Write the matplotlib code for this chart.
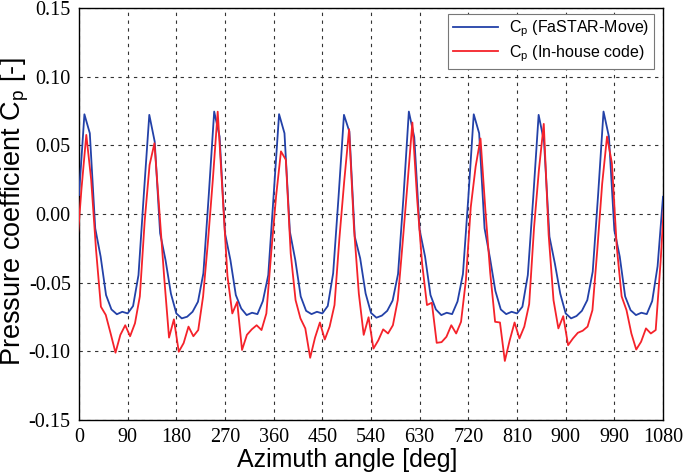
import numpy as np
import matplotlib
matplotlib.use("Agg")
import matplotlib.pyplot as plt

# ---- data ----
blue_angle = np.arange(0, 1081, 10)
blue_cp = [
    0.0138, 0.0726, 0.0588, -0.0104, -0.031, -0.059, -0.0695, -0.073, -0.0712, -0.0724,
    -0.067, -0.0445, 0.015, 0.0722, 0.0527, -0.014, -0.0335, -0.058, -0.0724, -0.076,
    -0.0748, -0.0712, -0.0639, -0.0432, 0.014, 0.0746, 0.0564, -0.014, -0.0335, -0.059,
    -0.0688, -0.0736, -0.0719, -0.0729, -0.0634, -0.0445, 0.014, 0.0727, 0.0588, -0.0129,
    -0.0335, -0.060, -0.0705, -0.0729, -0.0712, -0.0724, -0.067, -0.0432, 0.0126, 0.0722,
    0.060, -0.0165, -0.0323, -0.0578, -0.072, -0.0755, -0.074, -0.0705, -0.063, -0.0437,
    0.012, 0.0746, 0.056, -0.0117, -0.031, -0.059, -0.0695, -0.0736, -0.0719, -0.0729,
    -0.0637, -0.0437, 0.012, 0.0726, 0.0588, -0.0104, -0.032, -0.056, -0.0695, -0.0729,
    -0.0712, -0.0724, -0.0675, -0.0445, 0.012, 0.0722, 0.0527, -0.0165, -0.036, -0.058,
    -0.0724, -0.076, -0.0743, -0.0705, -0.0627, -0.042, 0.014, 0.0746, 0.0563, -0.0117,
    -0.031, -0.060, -0.070, -0.0736, -0.0719, -0.0729, -0.0634, -0.038, 0.0126,
]

red_angle = np.arange(-4.5, 1085, 9)
red_cp = [
    -0.029, 0.018, 0.0576, 0.025, -0.026, -0.0675, -0.0735, -0.087, -0.101, -0.088,
    -0.081, -0.089, -0.0796, -0.060, -0.005, 0.0357, 0.0515, 0.003, -0.046, -0.090,
    -0.0767, -0.1003, -0.094, -0.082, -0.089, -0.0845, -0.060, -0.02, 0.025, 0.0745,
    0.015, -0.045, -0.0724, -0.064, -0.099, -0.088, -0.084, -0.081, -0.0845, -0.0724,
    -0.028, 0.013, 0.0456, 0.0395, -0.0287, -0.0627, -0.076, -0.0833, -0.1047, -0.090,
    -0.079, -0.0914, -0.082, -0.0663, -0.018, 0.024, 0.0617, -0.01, -0.058, -0.088,
    -0.0752, -0.098, -0.092, -0.084, -0.087, -0.081, -0.0627, -0.021, 0.022, 0.0666,
    0.010, -0.036, -0.0663, -0.0646, -0.0938, -0.0933, -0.0894, -0.081, -0.087, -0.0785,
    -0.048, 0.005, 0.0345, 0.055, 0.003, -0.043, -0.0785, -0.079, -0.107, -0.092,
    -0.079, -0.0906, -0.082, -0.0656, -0.01, 0.032, 0.0656, -0.015, -0.0627, -0.0833,
    -0.0744, -0.0955, -0.0906, -0.0865, -0.085, -0.082, -0.070, -0.026, 0.022, 0.0564,
    0.037, -0.024, -0.060, -0.070, -0.087, -0.0987, -0.093, -0.0833, -0.087, -0.0845,
    -0.035, 0.025,
]

x_ticks = [0, 90, 180, 270, 360, 450, 540, 630, 720, 810, 900, 990, 1080]
y_ticks = [-0.15, -0.10, -0.05, 0.00, 0.05, 0.10, 0.15]
y_ticklabels = ["-0.15", "-0.10", "-0.05", "0.00", "0.05", "0.10", "0.15"]

# ---- figure ----
plt.rcParams['mathtext.fontset'] = 'custom'
plt.rcParams['mathtext.rm'] = 'Liberation Sans'
plt.rcParams['mathtext.it'] = 'Liberation Sans'

fig = plt.figure(figsize=(6.85, 4.75), dpi=100)
ax = fig.add_axes([79/685, 1 - 420/475, (663-79)/685, (420-8)/475])

ax.plot(blue_angle, blue_cp, color='#2341a8', lw=1.3,
        label=r'C$_\mathrm{p}$ (FaSTAR-Move)', zorder=3)
ax.plot(red_angle, red_cp, color='#f5222a', lw=1.3,
        label=r'C$_\mathrm{p}$ (In-house code)', zorder=3)

ax.set_xlim(0, 1080)
ax.set_ylim(-0.15, 0.15)
ax.set_xticks(x_ticks)
ax.set_xticklabels([str(t) for t in x_ticks], family='Liberation Serif', fontsize=14.5)
ax.set_yticks(y_ticks)
ax.set_yticklabels(y_ticklabels, family='Liberation Serif', fontsize=14.5)
ax.tick_params(length=0, pad=6)

ax.grid(True, color='#333333', linestyle=(0, (3, 4)), linewidth=0.8)
for s in ax.spines.values():
    s.set_linewidth(1.0)
    s.set_color('black')

ax.set_xlabel('Azimuth angle [deg]', family='Liberation Sans', fontsize=18)
ax.xaxis.label.set_verticalalignment('center')
ax.xaxis.set_label_coords(0.46, -0.098)
ax.set_ylabel(r'Pressure coefficient C$_\mathrm{p}$ [-]', family='Liberation Sans',
              fontsize=19.5)
ax.yaxis.label.set_verticalalignment('center')
ax.yaxis.set_label_coords(-0.109, 0.505)

leg = ax.legend(loc='upper right', bbox_to_anchor=(0.9845, 0.986), fancybox=False,
                framealpha=1, edgecolor='#777777', prop={'family': 'Liberation Sans', 'size': 11.5},
                handlelength=2.8, handletextpad=0.7, borderpad=0.3, labelspacing=0.25,
                borderaxespad=0.0)
leg.get_frame().set_linewidth(0.8)

fig.savefig('out.png', dpi=100)
